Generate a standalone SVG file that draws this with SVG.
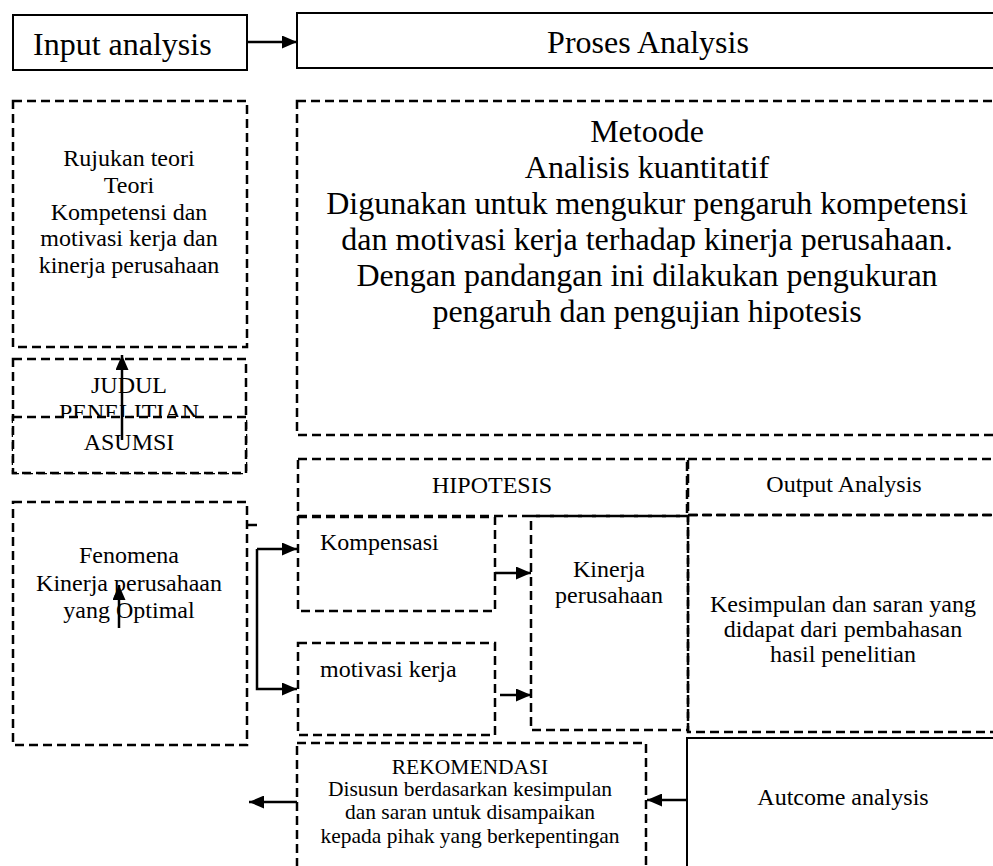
<svg xmlns="http://www.w3.org/2000/svg" width="993" height="866" viewBox="0 0 993 866" font-family="'Liberation Serif', 'DejaVu Serif', serif">
<style>
.solid{fill:#fff;stroke:#000;stroke-width:2}
.dash{fill:none;stroke:#000;stroke-width:2.5;stroke-dasharray:9 5}
.dashw{fill:#fff;stroke:#000;stroke-width:2.5;stroke-dasharray:9 5}
.conn{fill:none;stroke:#000;stroke-width:2.5}
text{font-family:'Liberation Serif','DejaVu Serif',serif;fill:#000}
.t32{font-size:32px}
.t24{font-size:24px}
.t21{font-size:21.5px}
.c{text-anchor:middle}
</style>
<defs>
<marker id="ah" viewBox="0 0 15 13" refX="15" refY="6.5" markerWidth="15" markerHeight="13" orient="auto" markerUnits="userSpaceOnUse">
<path d="M0,0 L15,6.5 L0,13 z" fill="#000"/>
</marker>
</defs>
<rect width="993" height="866" fill="#fff"/>

<g id="input-analysis">
<rect class="solid" x="13" y="15" width="234" height="55"/>
<text class="t32" x="33" y="55">Input analysis</text>
</g>
<g id="proses-analysis">
<rect class="solid" x="297" y="13" width="720" height="55"/>
<text class="t32 c" x="648" y="53">Proses Analysis</text>
</g>
<g id="rujukan-teori">
<rect class="dash" x="13" y="101" width="234" height="246"/>
<text class="t24 c" x="129" y="166">Rujukan teori</text>
<text class="t24 c" x="129" y="193">Teori</text>
<text class="t24 c" x="129" y="220">Kompetensi dan</text>
<text class="t24 c" x="129" y="246">motivasi kerja dan</text>
<text class="t24 c" x="129" y="273">kinerja perusahaan</text>
</g>
<g id="metoode">
<rect class="dash" x="297" y="101" width="720" height="334"/>
<text class="t32 c" x="647" y="142">Metoode</text>
<text class="t32 c" x="647" y="178">Analisis kuantitatif</text>
<text class="t32 c" x="647" y="214">Digunakan untuk mengukur pengaruh kompetensi</text>
<text class="t32 c" x="647" y="250">dan motivasi kerja terhadap kinerja perusahaan.</text>
<text class="t32 c" x="647" y="286">Dengan pandangan ini dilakukan pengukuran</text>
<text class="t32 c" x="647" y="322">pengaruh dan pengujian hipotesis</text>
</g>
<g id="judul-penelitian">
<rect class="dash" x="13" y="359" width="233" height="114"/>
<text class="t24 c" x="129" y="393">JUDUL</text>
<text class="t24 c" x="129" y="420">PENELITIAN</text>
</g>
<g id="asumsi">
<rect class="dashw" x="13" y="417" width="233" height="56"/>
<text class="t24 c" x="129" y="450">ASUMSI</text>
</g>
<g id="fenomena">
<rect class="dash" x="13" y="502" width="234" height="243"/>
<text class="t24 c" x="129" y="563">Fenomena</text>
<text class="t24 c" x="129" y="591">Kinerja perusahaan</text>
<text class="t24 c" x="129" y="618">yang Optimal</text>
</g>
<g id="hipotesis">
<rect class="dash" x="298" y="459" width="389" height="57"/>
<text class="t24 c" x="492" y="493">HIPOTESIS</text>
</g>
<g id="output-analysis">
<rect class="dash" x="688" y="459" width="320" height="56"/>
<text class="t24 c" x="844" y="492">Output Analysis</text>
</g>
<g id="kompensasi">
<rect class="dash" x="298" y="517" width="197" height="94"/>
<text class="t24" x="320" y="550">Kompensasi</text>
</g>
<g id="motivasi-kerja">
<rect class="dash" x="298" y="643" width="197" height="92"/>
<text class="t24" x="320" y="677">motivasi kerja</text>
</g>
<g id="kinerja-perusahaan">
<rect class="dash" x="531" y="516" width="157" height="214"/>
<text class="t24 c" x="609" y="577">Kinerja</text>
<text class="t24 c" x="609" y="603">perusahaan</text>
</g>
<g id="kesimpulan">
<rect class="dash" x="688" y="515" width="320" height="217"/>
<text class="t24 c" x="843" y="612">Kesimpulan dan saran yang</text>
<text class="t24 c" x="843" y="637">didapat dari pembahasan</text>
<text class="t24 c" x="843" y="662">hasil penelitian</text>
</g>
<g id="rekomendasi">
<rect class="dash" x="297" y="743" width="349" height="140"/>
<text class="t21 c" x="470" y="774">REKOMENDASI</text>
<text class="t21 c" x="470" y="796">Disusun berdasarkan kesimpulan</text>
<text class="t21 c" x="470" y="819">dan saran untuk disampaikan</text>
<text class="t21 c" x="470" y="843">kepada pihak yang berkepentingan</text>
</g>
<g id="autcome-analysis">
<rect class="solid" x="687" y="738" width="320" height="140"/>
<text class="t24 c" x="843" y="805">Autcome analysis</text>
</g>

<g id="connectors">
<path class="conn" d="M247,42 H297" marker-end="url(#ah)"/>
<path class="conn" d="M122,440 V355" marker-end="url(#ah)"/>
<path class="conn" d="M119,628 V585" marker-end="url(#ah)"/>
<path class="conn" d="M247,525 H257"/>
<path class="conn" d="M257,549 H297" marker-end="url(#ah)"/>
<path class="conn" d="M257,549 V689 H297" marker-end="url(#ah)"/>
<path class="conn" d="M495,573 H531" marker-end="url(#ah)"/>
<path class="conn" d="M500,695 H531" marker-end="url(#ah)"/>
<path class="conn" d="M687,800 H647" marker-end="url(#ah)"/>
<path class="conn" d="M297,802 H249" marker-end="url(#ah)"/>
</g>
</svg>
